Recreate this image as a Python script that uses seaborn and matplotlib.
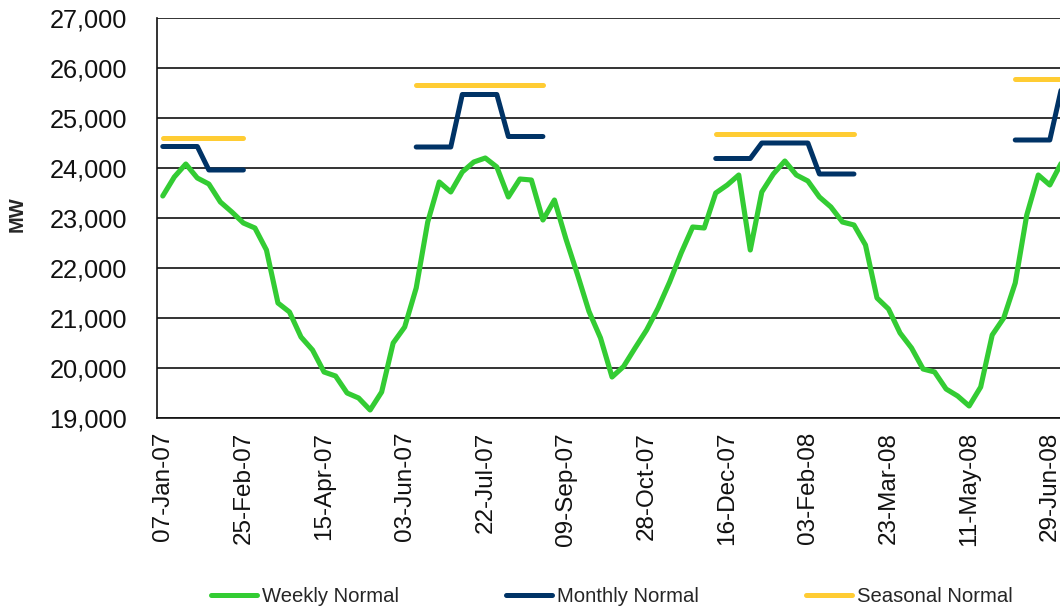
import numpy as np
import pandas as pd
import matplotlib
matplotlib.use("Agg")
import matplotlib.pyplot as plt
from matplotlib.lines import Line2D
from matplotlib.ticker import FuncFormatter
import seaborn as sns


# Week dates (category axis), one point per week
week_dates = pd.date_range("2007-01-07", periods=79, freq="7D")
week_labels = [d.strftime("%d-%b-%y") for d in week_dates]

# Weekly normal load, MW
weekly_normal = [
    23440, 23820, 24080, 23800, 23680, 23320, 23120, 22900, 22800, 22360,
    21300, 21120, 20620, 20360, 19920, 19840, 19500, 19400, 19160, 19520,
    20500, 20820, 21600, 22920, 23720, 23520, 23920, 24120, 24200, 24020,
    23420, 23780, 23760, 22960, 23360, 22580, 21870, 21130, 20600, 19820,
    20030, 20400, 20760, 21200, 21720, 22300, 22820, 22800, 23500, 23660,
    23860, 22360, 23520, 23880, 24140, 23860, 23740, 23420, 23220, 22920,
    22860, 22460, 21400, 21180, 20700, 20400, 19980, 19920, 19580, 19440,
    19240, 19620, 20660, 21000, 21700, 23060, 23860, 23660, 24100,
]

# Monthly normal, only during the peak seasons (None = not shown)
N = None
monthly_normal = (
    [24430] * 4 + [23960] * 4 + [N] * 14
    + [24420] * 4 + [25470] * 4 + [24630] * 4 + [N] * 14
    + [24190] * 4 + [24500] * 5 + [23880] * 4 + [N] * 13
    + [24560] * 4 + [25580]
)

# Seasonal normal
seasonal_normal = (
    [24610] * 8 + [N] * 14
    + [25660] * 12 + [N] * 14
    + [24690] * 13 + [N] * 13
    + [25780] * 5
)

GREEN = "#33CC33"
NAVY = "#003366"
GOLD = "#FFCC33"


# Turn a list with gaps into a long table with one segment id per unbroken run
def to_segments(values):
    rows = []
    seg = 0
    prev = None
    for i, v in enumerate(values):
        if v is None:
            prev = None
            continue
        if prev is None:
            seg += 1
        rows.append({"week": i, "mw": v, "segment": seg})
        prev = v
    return pd.DataFrame(rows)


def main():
    sns.set_style("white")
    plt.rcParams["font.family"] = ["Liberation Sans", "DejaVu Sans"]

    fig = plt.figure(figsize=(10.6, 6.09), dpi=100)
    # axes run a little past the right edge, like the clipped original
    ax = fig.add_axes([157 / 1060, 191 / 609, 921.6 / 1060, 400 / 609])

    weekly_df = pd.DataFrame({"week": np.arange(len(weekly_normal)), "mw": weekly_normal})
    monthly_df = to_segments(monthly_normal)
    seasonal_df = to_segments(seasonal_normal)

    line_kw = dict(solid_capstyle="round", solid_joinstyle="round")
    sns.lineplot(data=weekly_df, x="week", y="mw", color=GREEN, lw=3.7, ax=ax, **line_kw)
    sns.lineplot(data=monthly_df, x="week", y="mw", units="segment", estimator=None,
                 color=NAVY, lw=3.6, ax=ax, **line_kw)
    sns.lineplot(data=seasonal_df, x="week", y="mw", units="segment", estimator=None,
                 color=GOLD, lw=3.6, ax=ax, **line_kw)

    ax.set_xlim(-0.5, 79.5)
    ax.set_ylim(19000, 27000)
    ax.set_yticks(np.arange(19000, 27001, 1000))
    ax.yaxis.set_major_formatter(FuncFormatter(lambda v, p: f"{int(v):,}"))
    tick_pos = list(range(0, len(week_labels), 7))
    ax.set_xticks(tick_pos)
    ax.set_xticklabels([week_labels[i] for i in tick_pos], rotation=90)
    ax.tick_params(axis="y", length=0, pad=21.5, labelsize=18.3, labelcolor="#111111")
    ax.tick_params(axis="x", length=0, pad=10, labelsize=17.5, labelcolor="#111111")

    ax.grid(axis="y", color="#111111", lw=1.2)
    ax.set_axisbelow(True)
    for side in ["top", "right"]:
        ax.spines[side].set_visible(False)
    ax.spines["left"].set_color("#111111")
    ax.spines["left"].set_linewidth(1.2)
    ax.spines["bottom"].set_color("#111111")
    ax.spines["bottom"].set_linewidth(1.2)
    ax.set_xlabel("")
    ax.set_ylabel("")

    fig.text(17 / 1060, 1 - 214 / 609, "MW", rotation=90, fontsize=14.5,
             fontweight="bold", ha="center", va="center")

    handles = [
        Line2D([], [], color=GREEN, lw=3.6, solid_capstyle="round"),
        Line2D([], [], color=NAVY, lw=3.6, solid_capstyle="round"),
        Line2D([], [], color=GOLD, lw=3.6, solid_capstyle="round"),
    ]
    labels = ["Weekly Normal", "Monthly Normal", "Seasonal Normal"]
    fig.legend(handles, labels, loc="center", bbox_to_anchor=(612 / 1060, 12 / 609),
               ncol=3, frameon=False, fontsize=14.6, handlelength=2.25,
               handletextpad=0.25, columnspacing=5.3, borderaxespad=0)

    fig.savefig("out.png", dpi=100)


if __name__ == "__main__":
    main()
